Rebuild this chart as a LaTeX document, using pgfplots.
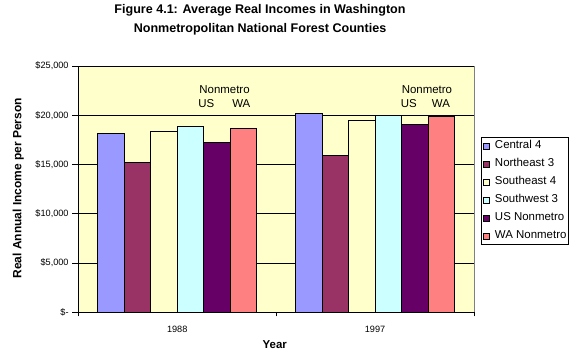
\documentclass[border=0pt]{standalone}
\usepackage{pgfplots}
\pgfplotsset{compat=1.18}
\usepackage{fontspec}
\setmainfont{Liberation Sans}
\definecolor{cA}{HTML}{9999FF}
\definecolor{cB}{HTML}{993366}
\definecolor{cC}{HTML}{FFFFCC}
\definecolor{cD}{HTML}{CCFFFF}
\definecolor{cE}{HTML}{660066}
\definecolor{cF}{HTML}{FF8080}
\begin{document}
\begin{tikzpicture}
\path[use as bounding box] (0bp,0bp) rectangle (583bp,352bp);
\node[font=\bfseries\fontsize{12.6}{19.3}\selectfont, align=center] at (260bp,332.3bp) {Figure 4.1: Average Real Incomes in Washington\\Nonmetropolitan National Forest Counties};
\begin{axis}[
  at={(78.3bp,39.7bp)}, anchor=south west,
  scale only axis, width=395.7bp, height=246.3bp,
  xmin=-0.5, xmax=1.5, ymin=0, ymax=25000,
  ybar=0pt, bar width=0.134,
  scaled y ticks=false,
  axis background/.style={fill=cC, draw=gray, line width=0.8bp},
  axis x line*=bottom, axis y line*=left,
  axis line style={black, line width=0.8bp, -},
  xtick={0,1}, xticklabels={1988,1997},
  major x tick style={draw=none},
  minor xtick={-0.5,0.5,1.5},
  minor x tick style={black, line width=0.8bp},
  minor tick length=4bp,
  ytick={0,5000,10000,15000,20000,25000},
  yticklabels={{\$-},{\$5,000},{\$10,000},{\$15,000},{\$20,000},{\$25,000}},
  major y tick style={black, line width=0.8bp},
  major tick length=6bp,
  tick align=outside,
  ymajorgrids, major grid style={black, line width=0.8bp},
  ticklabel style={font=\fontsize{9.2}{10}\selectfont, inner sep=0pt},
  yticklabel style={xshift=-3.5bp},
  xticklabel style={yshift=-8bp},
  every axis plot/.append style={draw=black, line width=0.8bp},
  legend image code/.code={\draw[#1, line width=0.6bp] (0bp,-3bp) rectangle (6bp,3bp);},
  legend style={at={(rel axis cs:1.0184,0.7105)}, anchor=north west,
    draw=black, fill=white, line width=0.8bp,
    font=\fontsize{11.5}{13}\selectfont,
    inner xsep=1bp, inner ysep=1.5bp,
    nodes={inner sep=1.2bp, text height=8.5bp, text depth=2.4bp},
    row sep=4.7bp, column sep=4.5bp},
  legend cell align=left,
  clip=false,
]
\addplot[fill=cA] coordinates {(0,18170) (1,20200)};
\addplot[fill=cB] coordinates {(0,15230) (1,15940)};
\addplot[fill=cC] coordinates {(0,18410) (1,19490)};
\addplot[fill=cD] coordinates {(0,18880) (1,19960)};
\addplot[fill=cE] coordinates {(0,17260) (1,19090)};
\addplot[fill=cF] coordinates {(0,18680) (1,19900)};
\legend{Central 4,Northeast 3,Southeast 4,Southwest 3,US Nonmetro,WA Nonmetro}
\node[font=\fontsize{11.5}{13}\selectfont] at (axis cs:0.239,22560) {Nonmetro};
\node[font=\fontsize{11.5}{13}\selectfont] at (axis cs:0.147,21140) {US};
\node[font=\fontsize{11.5}{13}\selectfont] at (axis cs:0.324,21140) {WA};
\node[font=\fontsize{11.5}{13}\selectfont] at (axis cs:1.262,22560) {Nonmetro};
\node[font=\fontsize{11.5}{13}\selectfont] at (axis cs:1.171,21140) {US};
\node[font=\fontsize{11.5}{13}\selectfont] at (axis cs:1.333,21140) {WA};
\end{axis}
\node[font=\bfseries\fontsize{12}{14}\selectfont, rotate=90] at (18.3bp,163.7bp) {Real Annual Income per Person};
\node[font=\bfseries\fontsize{11.5}{13}\selectfont] at (274.8bp,7.7bp) {Year};
\end{tikzpicture}
\end{document}
